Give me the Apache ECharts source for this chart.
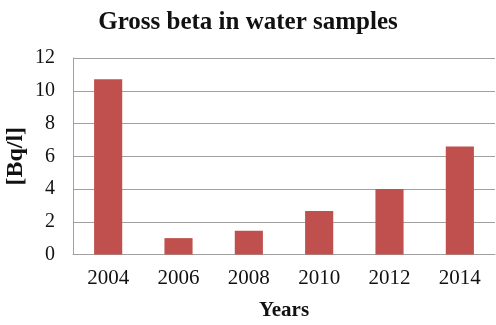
<!DOCTYPE html>
<html>
<head>
<meta charset="utf-8">
<script src="https://cdn.jsdelivr.net/npm/echarts@6/dist/echarts.min.js"></script>
<style>
  html, body { margin: 0; padding: 0; background: #fff; }
  #chart { width: 496px; height: 325px; }
</style>
</head>
<body>
<div id="chart"></div>
<script>
// Gross beta activity measured in water samples, by year
const years = ['2004', '2006', '2008', '2010', '2012', '2014'];
const grossBeta = [10.7, 1.0, 1.45, 2.65, 4.0, 6.6];
const yTicks = [0, 2, 4, 6, 8, 10, 12];

const serif = '"Liberation Serif", "Times New Roman", serif';
const chart = echarts.init(document.getElementById('chart'));
chart.setOption({
  animation: false,
  backgroundColor: '#ffffff',
  title: {
    text: 'Gross beta in water samples',
    left: 'center',
    top: 5,
    textStyle: { fontFamily: serif, fontWeight: 'bold', fontSize: 25, color: '#111' }
  },
  grid: { left: 73, right: 1, top: 58, bottom: 70.5, outerBoundsMode: 'none', containLabel: false },
  xAxis: {
    type: 'category',
    data: years,
    name: 'Years',
    nameLocation: 'middle',
    nameGap: 46,
    nameTextStyle: { fontFamily: serif, fontWeight: 'bold', fontSize: 21, color: '#111' },
    axisLine: { lineStyle: { color: '#a0a0a0', width: 1 } },
    axisTick: { show: false },
    axisLabel: { fontFamily: serif, fontSize: 21, color: '#111', margin: 13 }
  },
  yAxis: {
    type: 'value',
    min: yTicks[0],
    max: yTicks[yTicks.length - 1],
    interval: 2,
    name: '[Bq/l]',
    nameLocation: 'middle',
    nameGap: 45,
    nameMoveOverlap: false,
    nameTextStyle: { fontFamily: serif, fontWeight: 'bold', fontSize: 24, color: '#111' },
    axisLine: { show: true, lineStyle: { color: '#a0a0a0', width: 1 } },
    axisTick: { show: false },
    splitLine: { lineStyle: { color: '#a0a0a0', width: 1 } },
    axisLabel: { fontFamily: serif, fontSize: 20, color: '#111', margin: 18 }
  },
  series: [{
    type: 'bar',
    data: grossBeta,
    barCategoryGap: '60%',
    itemStyle: { color: '#C0504D' }
  }]
});
</script>
</body>
</html>
